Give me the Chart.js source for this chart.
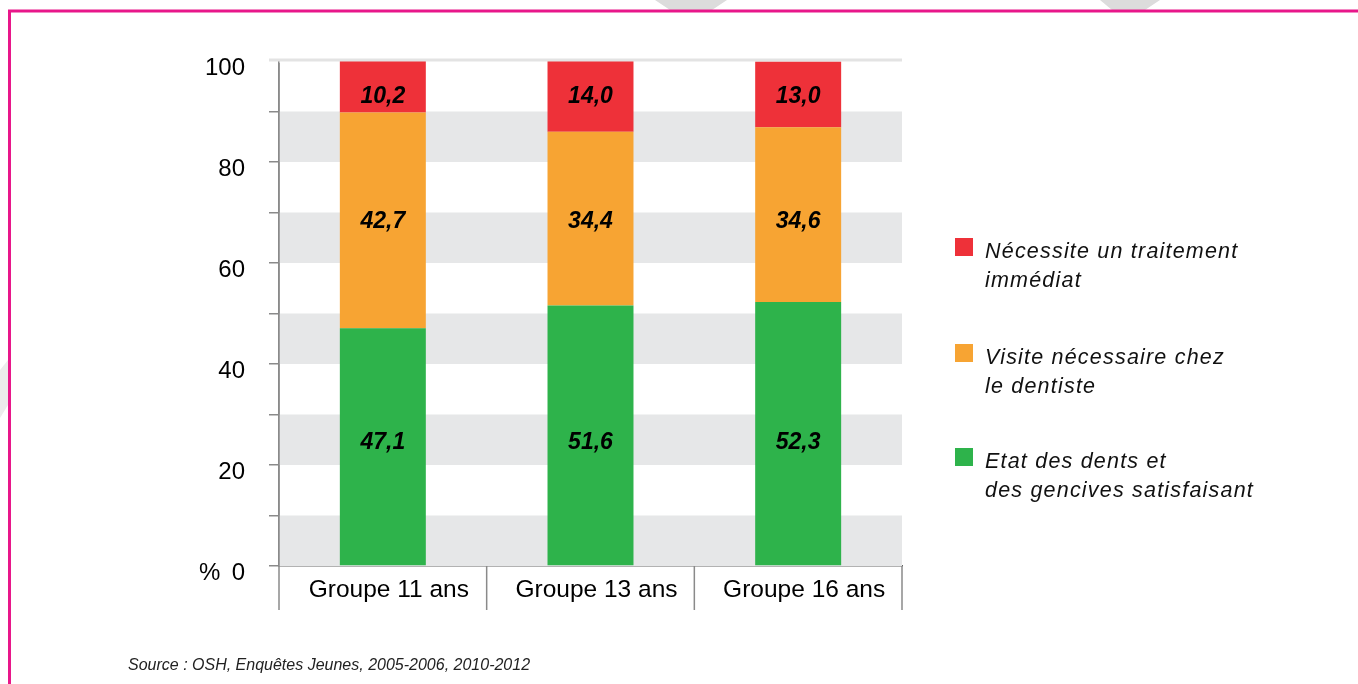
<!DOCTYPE html>
<html>
<head>
<meta charset="utf-8">
<script src="https://cdn.jsdelivr.net/npm/chart.js@4"></script>
<style>
  html, body { margin: 0; padding: 0; background: #fff; }
  canvas { display: block; }
</style>
</head>
<body>
<canvas id="chart" width="1358" height="684"></canvas>
<script>
// données
const groupes = ["Groupe 11 ans", "Groupe 13 ans", "Groupe 16 ans"];
const satisfaisant = [47.1, 51.6, 52.3];
const visite = [42.7, 34.4, 34.6];
const traitement = [10.2, 14.0, 13.0];
const legendeLignes = [
  ["Nécessite un traitement", "immédiat"],
  ["Visite nécessaire chez", "le dentiste"],
  ["Etat des dents et", "des gencives satisfaisant"]
];
const source = "Source : OSH, Enquêtes Jeunes, 2005-2006, 2010-2012";

const ROUGE = "#ee3139", ORANGE = "#f7a433", VERT = "#2eb34b";
const FONT = "'Liberation Sans', Arial, sans-serif";

// bandes grises + cadre + légende
const decor = {
  id: "decor",
  beforeDatasetsDraw(chart) {
    const { ctx, chartArea: a, scales: { y } } = chart;
    ctx.save();
    ctx.fillStyle = "#e6e7e8";
    for (let v = 0; v < 100; v += 20) {
      const top = y.getPixelForValue(v + 10), bot = y.getPixelForValue(v);
      ctx.fillRect(a.left, top, a.right - a.left, bot - top);
    }
    ctx.restore();
  },
  afterDatasetsDraw(chart) {
    const { ctx, scales: { y } } = chart;
    ctx.save();
    ctx.font = "italic bold 23px " + FONT;
    ctx.fillStyle = "#000";
    ctx.textAlign = "center";
    ctx.textBaseline = "middle";
    // étiquettes alignées sur une même hauteur par série (milieu moyen)
    let cumul = 0;
    chart.data.datasets.forEach((ds, i) => {
      const moy = ds.data.reduce((s, v) => s + v, 0) / ds.data.length;
      const yPix = y.getPixelForValue(cumul + moy / 2) + 4;
      cumul += moy;
      chart.getDatasetMeta(i).data.forEach((el, j) => {
        const txt = ds.data[j].toFixed(1).replace(".", ",");
        ctx.fillText(txt, el.x, yPix);
      });
    });
    ctx.restore();
  },
  afterDraw(chart) {
    const { ctx, chartArea: a } = chart;
    ctx.save();
    // formes grises en haut
    ctx.fillStyle = "#dcdcdc";
    ctx.beginPath(); ctx.moveTo(655, 0); ctx.lineTo(727, 0); ctx.lineTo(712, 10); ctx.lineTo(670, 10); ctx.fill();
    ctx.beginPath(); ctx.moveTo(1100, 0); ctx.lineTo(1160, 0); ctx.lineTo(1145, 10); ctx.lineTo(1112, 10); ctx.fill();
    ctx.fillStyle = "#ececec";
    ctx.beginPath(); ctx.moveTo(0, 370); ctx.lineTo(8, 360); ctx.lineTo(8, 405); ctx.lineTo(0, 418); ctx.fill();
    // cadre rose
    ctx.strokeStyle = "#e8178a";
    ctx.lineWidth = 3;
    ctx.beginPath();
    ctx.moveTo(1358, 11); ctx.lineTo(9.5, 11); ctx.lineTo(9.5, 684);
    ctx.stroke();
    // ligne 100
    ctx.strokeStyle = "#e3e3e3";
    ctx.lineWidth = 3;
    ctx.beginPath();
    ctx.moveTo(a.left - 10, a.top - 1); ctx.lineTo(a.right, a.top - 1);
    ctx.stroke();
    // axe vertical prolongé + séparateurs
    ctx.strokeStyle = "#8a8a8a";
    ctx.lineWidth = 1.5;
    ctx.beginPath();
    ctx.moveTo(a.left, a.top + 2); ctx.lineTo(a.left, a.bottom + 44);
    for (let i = 1; i <= groupes.length; i++) {
      const px = a.left + (a.right - a.left) * i / groupes.length;
      ctx.moveTo(px, a.bottom); ctx.lineTo(px, a.bottom + 44);
    }
    ctx.stroke();
    // %
    ctx.fillStyle = "#000";
    ctx.font = "24px " + FONT;
    ctx.textBaseline = "middle";
    ctx.fillText("%", 199, a.bottom + 7);
    // légende
    const couleurs = [ROUGE, ORANGE, VERT];
    const carreY = [238, 344, 448];
    ctx.font = "italic 21.5px " + FONT;
    ctx.letterSpacing = "1.2px";
    legendeLignes.forEach((lignes, i) => {
      ctx.fillStyle = couleurs[i];
      ctx.fillRect(955, carreY[i], 18, 18);
      ctx.fillStyle = "#111";
      lignes.forEach((l, k) => ctx.fillText(l, 985, carreY[i] + 14 + k * 29));
    });
    // source
    ctx.letterSpacing = "0px";
    ctx.font = "italic 16px " + FONT;
    ctx.fillStyle = "#222";
    ctx.fillText(source, 128, 666);
    ctx.restore();
  }
};

new Chart(document.getElementById("chart"), {
  type: "bar",
  data: {
    labels: groupes,
    datasets: [
      { label: "Etat des dents et des gencives satisfaisant", data: satisfaisant, backgroundColor: VERT },
      { label: "Visite nécessaire chez le dentiste", data: visite, backgroundColor: ORANGE },
      { label: "Nécessite un traitement immédiat", data: traitement, backgroundColor: ROUGE }
    ]
  },
  options: {
    responsive: false,
    animation: false,
    layout: { padding: { left: 179, top: 61, right: 456, bottom: 0 } },
    datasets: { bar: { categoryPercentage: 1, barPercentage: 0.414 } },
    plugins: { legend: { display: false }, tooltip: { enabled: false } },
    scales: {
      x: {
        stacked: true,
        grid: { display: false },
        border: { color: "#666", width: 1.5 },
        ticks: { color: "#000", font: { family: FONT, size: 24.5 }, padding: 2, labelOffset: 6 },
        afterFit(s) { s.height = 118; }
      },
      y: {
        stacked: true,
        min: 0, max: 100,
        grid: {
          drawOnChartArea: false,
          tickLength: 10,
          color: (c) => (c.tick && c.tick.value === 100 ? "rgba(0,0,0,0)" : "#8a8a8a"),
          lineWidth: 1.5
        },
        border: { color: "#8a8a8a", width: 1.5 },
        ticks: {
          stepSize: 10,
          autoSkip: false,
          padding: 24,
          labelOffset: 7,
          color: "#000",
          font: { family: FONT, size: 24 },
          callback: (v) => (v % 20 === 0 ? String(v) : "")
        },
        afterFit(s) { s.width = 100; }
      }
    }
  },
  plugins: [decor]
});
</script>
</body>
</html>
